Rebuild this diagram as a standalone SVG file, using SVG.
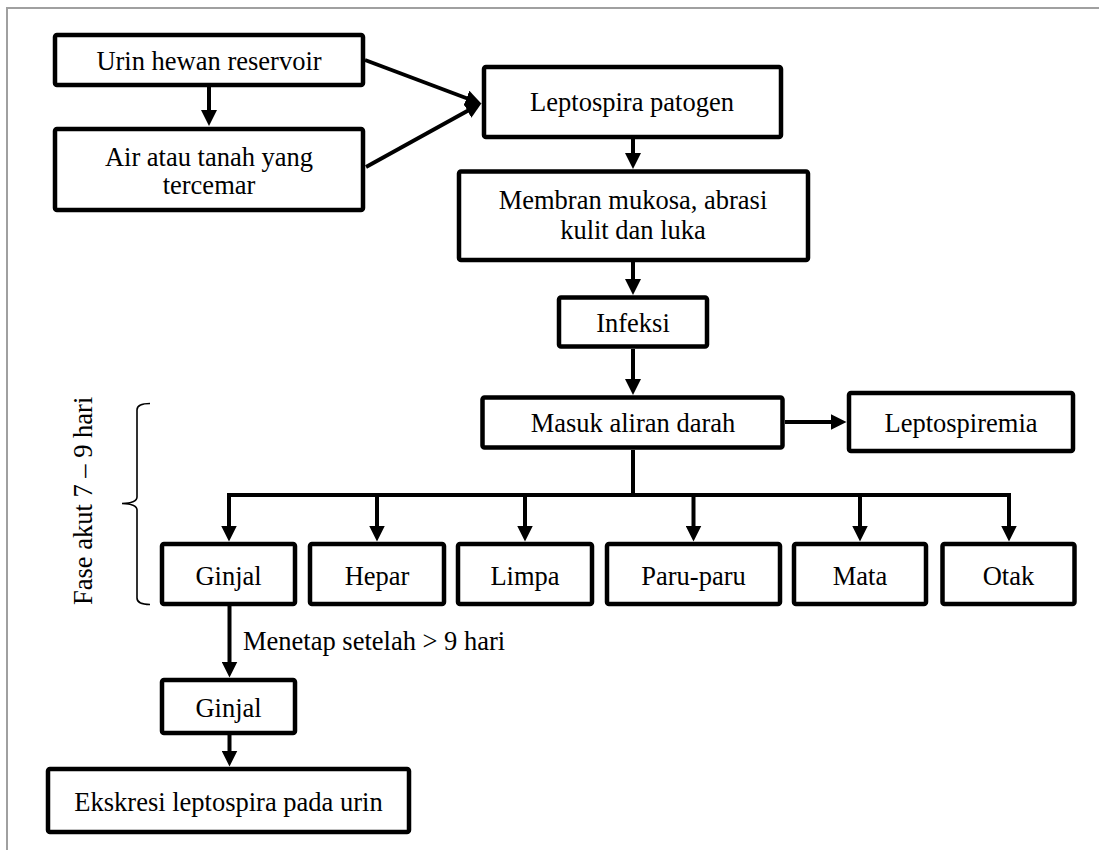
<svg xmlns="http://www.w3.org/2000/svg" width="1099" height="850" viewBox="0 0 1099 850">
<style>
.box{fill:#fff;stroke:#000;stroke-width:4.5}
.t{font-family:"Liberation Serif","Tinos","Nimbus Roman","DejaVu Serif",serif;font-size:26.5px;fill:#000;text-anchor:middle}
.c{fill:none;stroke:#000;stroke-width:4}
.ar{marker-end:url(#ah)}
</style>
<defs>
<marker id="ah" markerUnits="userSpaceOnUse" markerWidth="16" markerHeight="16" refX="8" refY="8" orient="auto" viewBox="0 0 16 16">
<path d="M0,0 L16,8 L0,16 z" fill="#000"/>
</marker>
</defs>
<rect width="1099" height="850" fill="#fff"/>
<g id="frame" fill="none" stroke="#a0a0a0" stroke-width="2">
<path d="M7,850 V8 H1099"/>
</g>
<g id="connectors">
<line class="c ar" x1="209" y1="87" x2="209" y2="118"/>
<line class="c ar" x1="365" y1="60" x2="474" y2="101"/>
<line class="c ar" x1="366" y1="167" x2="474.5" y2="107"/>
<line class="c ar" x1="633" y1="139" x2="633" y2="161"/>
<line class="c ar" x1="633" y1="262" x2="633" y2="287"/>
<line class="c ar" x1="633" y1="349" x2="633" y2="387"/>
<line class="c ar" x1="785" y1="422" x2="838.5" y2="422"/>
<path class="c" d="M633,450 V495 M227,495 H1011"/>
<line class="c ar" x1="229" y1="495" x2="229" y2="533.5"/>
<line class="c ar" x1="377" y1="495" x2="377" y2="533.5"/>
<line class="c ar" x1="525" y1="495" x2="525" y2="533.5"/>
<line class="c ar" x1="693.5" y1="495" x2="693.5" y2="533.5"/>
<line class="c ar" x1="860" y1="495" x2="860" y2="533.5"/>
<line class="c ar" x1="1009" y1="495" x2="1009" y2="533.5"/>
<line class="c ar" x1="229.5" y1="606" x2="229.5" y2="669.5"/>
<line class="c ar" x1="229.5" y1="735" x2="229.5" y2="758.5"/>
<text class="t" x="243" y="650" style="text-anchor:start">Menetap setelah &gt; 9 hari</text>
</g>
<g id="bracket">
<path d="M150,403.5 Q137,403.5 137,410 V497 Q137,503 122,503.5 Q137,504 137,510 V598 Q137,604.5 150,604.5" fill="none" stroke="#000" stroke-width="1.6"/>
<text class="t" transform="translate(91.5,605) rotate(-90)" style="text-anchor:start">Fase akut 7 – 9 hari</text>
</g>
<g id="n-urin"><rect class="box" x="55" y="35" width="308" height="50" rx="2"/><text class="t" x="209" y="70">Urin hewan reservoir</text></g>
<g id="n-air"><rect class="box" x="55" y="129" width="308" height="81" rx="2"/><text class="t" x="209" y="166">Air atau tanah yang</text><text class="t" x="209" y="194">tercemar</text></g>
<g id="n-lepto"><rect class="box" x="484" y="67" width="297" height="70" rx="2"/><text class="t" x="632" y="111">Leptospira patogen</text></g>
<g id="n-membran"><rect class="box" x="459" y="171.5" width="349" height="88.5" rx="2"/><text class="t" x="633" y="209">Membran mukosa, abrasi</text><text class="t" x="633" y="239">kulit dan luka</text></g>
<g id="n-infeksi"><rect class="box" x="559" y="297.5" width="148" height="49" rx="2"/><text class="t" x="633" y="332">Infeksi</text></g>
<g id="n-masuk"><rect class="box" x="482.5" y="397.5" width="300" height="50" rx="2"/><text class="t" x="633" y="432">Masuk aliran darah</text></g>
<g id="n-leptospiremia"><rect class="box" x="849" y="393" width="224" height="58" rx="2"/><text class="t" x="961" y="432">Leptospiremia</text></g>
<g id="n-ginjal"><rect class="box" x="162" y="544" width="133" height="60" rx="2"/><text class="t" x="228.5" y="585">Ginjal</text></g>
<g id="n-hepar"><rect class="box" x="310" y="544" width="134" height="60" rx="2"/><text class="t" x="377" y="585">Hepar</text></g>
<g id="n-limpa"><rect class="box" x="458" y="544" width="134" height="60" rx="2"/><text class="t" x="525" y="585">Limpa</text></g>
<g id="n-paru"><rect class="box" x="607" y="544" width="173" height="60" rx="2"/><text class="t" x="693.5" y="585">Paru-paru</text></g>
<g id="n-mata"><rect class="box" x="794" y="544" width="132" height="60" rx="2"/><text class="t" x="860" y="585">Mata</text></g>
<g id="n-otak"><rect class="box" x="942.5" y="544" width="132" height="60" rx="2"/><text class="t" x="1008.5" y="585">Otak</text></g>
<g id="n-ginjal2"><rect class="box" x="162" y="680" width="133" height="53" rx="2"/><text class="t" x="228.5" y="717">Ginjal</text></g>
<g id="n-ekskresi"><rect class="box" x="48" y="769" width="361" height="63" rx="2"/><text class="t" x="228.5" y="811">Ekskresi leptospira pada urin</text></g>
</svg>
